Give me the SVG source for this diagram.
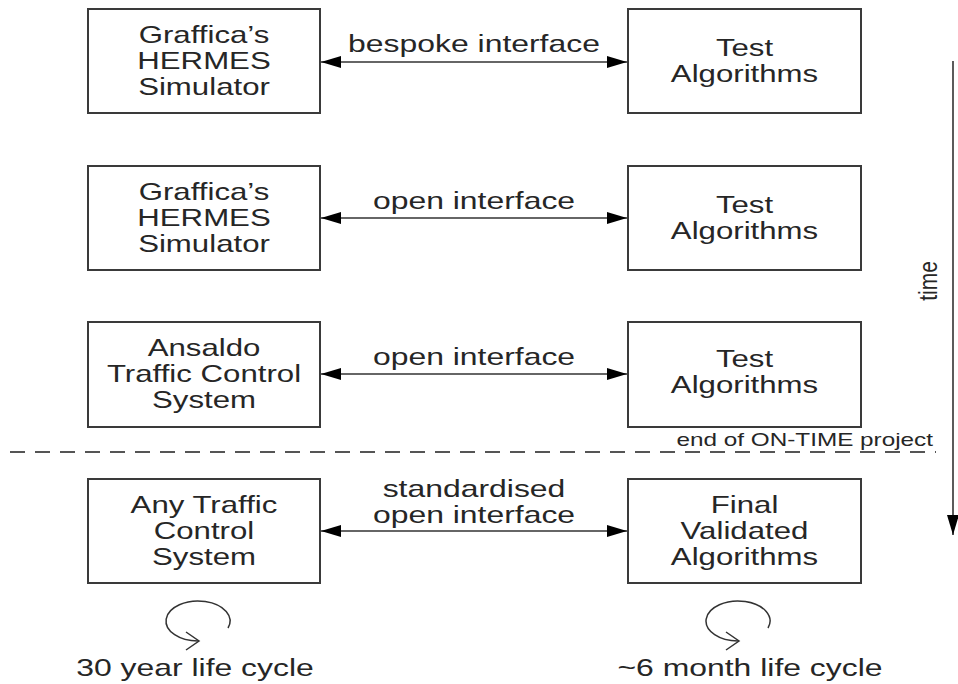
<svg xmlns="http://www.w3.org/2000/svg" width="958" height="684" viewBox="0 0 958 684">
<defs>
<style>
.box{fill:#fff;stroke:#3a3a3a;stroke-width:2}
.t{font-family:"Liberation Sans",Arial,sans-serif;font-size:24px;fill:#262626;text-anchor:middle}
.s{font-family:"Liberation Sans",Arial,sans-serif;font-size:18px;fill:#262626;text-anchor:end}
.ln{stroke:#333;stroke-width:1.6;fill:none}
.loop{stroke:#333;stroke-width:1.5;fill:none}
</style>
<marker id="ah" markerUnits="userSpaceOnUse" markerWidth="22" markerHeight="14" refX="20" refY="6" orient="auto-start-reverse">
<path d="M0,0 L20,6 L0,12 z" fill="#000"/>
</marker>
</defs>

<g id="node-hermes1">
<rect class="box" x="88" y="9" width="232" height="104"/>
<text class="t" transform="translate(204 43) scale(1.3 1)">Graffica’s</text>
<text class="t" transform="translate(204 69) scale(1.3 1)">HERMES</text>
<text class="t" transform="translate(204 95) scale(1.3 1)">Simulator</text>
</g>
<g id="node-test1">
<rect class="box" x="628" y="9" width="233" height="104"/>
<text class="t" transform="translate(744.5 56) scale(1.3 1)">Test</text>
<text class="t" transform="translate(744.5 82) scale(1.3 1)">Algorithms</text>
</g>

<g id="node-hermes2">
<rect class="box" x="88" y="166" width="232" height="104"/>
<text class="t" transform="translate(204 200) scale(1.3 1)">Graffica’s</text>
<text class="t" transform="translate(204 226) scale(1.3 1)">HERMES</text>
<text class="t" transform="translate(204 252) scale(1.3 1)">Simulator</text>
</g>
<g id="node-test2">
<rect class="box" x="628" y="166" width="233" height="104"/>
<text class="t" transform="translate(744.5 213) scale(1.3 1)">Test</text>
<text class="t" transform="translate(744.5 239) scale(1.3 1)">Algorithms</text>
</g>

<g id="node-ansaldo">
<rect class="box" x="88" y="322" width="232" height="105"/>
<text class="t" transform="translate(204 356) scale(1.3 1)">Ansaldo</text>
<text class="t" transform="translate(204 382) scale(1.3 1)">Traffic Control</text>
<text class="t" transform="translate(204 408) scale(1.3 1)">System</text>
</g>
<g id="node-test3">
<rect class="box" x="628" y="322" width="233" height="105"/>
<text class="t" transform="translate(744.5 367) scale(1.3 1)">Test</text>
<text class="t" transform="translate(744.5 393) scale(1.3 1)">Algorithms</text>
</g>

<g id="node-any">
<rect class="box" x="88" y="479" width="232" height="104"/>
<text class="t" transform="translate(204 513) scale(1.3 1)">Any Traffic</text>
<text class="t" transform="translate(204 539) scale(1.3 1)">Control</text>
<text class="t" transform="translate(204 565) scale(1.3 1)">System</text>
</g>
<g id="node-final">
<rect class="box" x="628" y="479" width="233" height="104"/>
<text class="t" transform="translate(744.5 513) scale(1.3 1)">Final</text>
<text class="t" transform="translate(744.5 539) scale(1.3 1)">Validated</text>
<text class="t" transform="translate(744.5 565) scale(1.3 1)">Algorithms</text>
</g>

<g id="connectors">
<line class="ln" x1="321" y1="62" x2="627" y2="62" marker-start="url(#ah)" marker-end="url(#ah)"/>
<text class="t" transform="translate(474 52) scale(1.33 1)">bespoke interface</text>
<line class="ln" x1="321" y1="218" x2="627" y2="218" marker-start="url(#ah)" marker-end="url(#ah)"/>
<text class="t" transform="translate(474 209) scale(1.33 1)">open interface</text>
<line class="ln" x1="321" y1="374" x2="627" y2="374" marker-start="url(#ah)" marker-end="url(#ah)"/>
<text class="t" transform="translate(474 365) scale(1.33 1)">open interface</text>
<line class="ln" x1="321" y1="531" x2="627" y2="531" marker-start="url(#ah)" marker-end="url(#ah)"/>
<text class="t" transform="translate(474 497) scale(1.33 1)">standardised</text>
<text class="t" transform="translate(474 523) scale(1.33 1)">open interface</text>
</g>

<g id="time-axis">
<line class="ln" x1="953" y1="61" x2="953" y2="535" marker-end="url(#ah)"/>
<text class="t" transform="translate(937 281) rotate(-90) scale(1 1.25)" style="font-size:21px">time</text>
</g>

<g id="project-end">
<line x1="10" y1="452" x2="936" y2="452" stroke="#555" stroke-width="2" stroke-dasharray="15 10"/>
<text class="s" transform="translate(933 446) scale(1.35 1)">end of ON-TIME project</text>
</g>

<g id="cycle-left">
<path class="loop" d="M228 628 A32 20 0 1 0 199 641"/>
<path class="loop" d="M186 632 L199 641 L186 650"/>
<text class="t" transform="translate(195 676) scale(1.33 1)">30 year life cycle</text>
</g>
<g id="cycle-right">
<path class="loop" d="M768 628 A32 20 0 1 0 739 641"/>
<path class="loop" d="M726 632 L739 641 L726 650"/>
<text class="t" transform="translate(750 676) scale(1.33 1)">~6 month life cycle</text>
</g>
</svg>
